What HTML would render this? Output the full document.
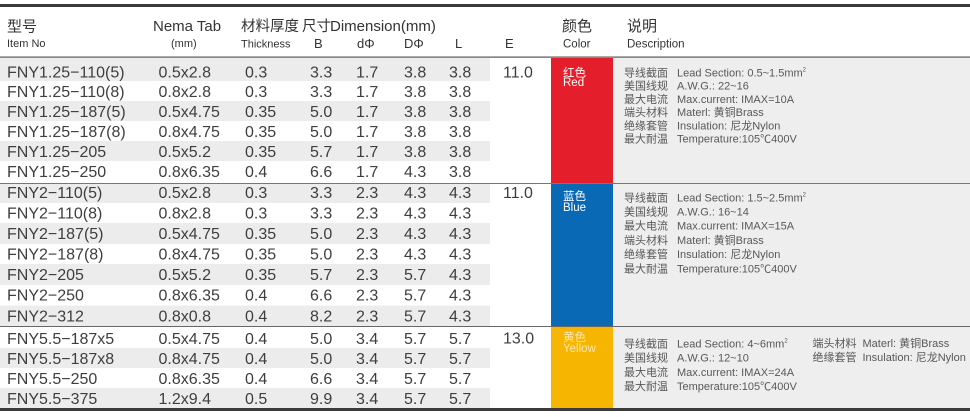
<!DOCTYPE html>
<html><head><meta charset="utf-8"><style>
html,body{margin:0;padding:0;background:#fff;}
svg{display:block}
text{font-family:"Liberation Sans","Noto Sans CJK SC",sans-serif;}
.h{fill:#333;}
.d{fill:#3e3e3e;font-size:16px;}
.s{fill:#585858;font-size:11px;}
.w{fill:#fff;font-size:11.5px;}
</style></head><body>
<svg width="970" height="417" viewBox="0 0 970 417" xmlns="http://www.w3.org/2000/svg">
<!-- backgrounds -->
<rect x="613" y="58" width="357" height="350" fill="#eeeeee"/>
<g fill="#ececec">
<rect x="0" y="58" width="490" height="23"/>
<rect x="0" y="101" width="490" height="20"/>
<rect x="0" y="141" width="490" height="20"/>
<rect x="0" y="184" width="490" height="19"/>
<rect x="0" y="223" width="490" height="21"/>
<rect x="0" y="264" width="490" height="21"/>
<rect x="0" y="305.5" width="490" height="20.5"/>
<rect x="0" y="348" width="490" height="20"/>
<rect x="0" y="388" width="490" height="20"/>
</g>
<rect x="551" y="58" width="62" height="125" fill="#e41f2b"/>
<rect x="551" y="184" width="62" height="142" fill="#0a69b5"/>
<rect x="551" y="327" width="62" height="81" fill="#f5b500"/>
<!-- lines -->
<rect x="0" y="4" width="970" height="3" fill="#3a3a3a"/>
<rect x="0" y="56.5" width="970" height="1.2" fill="#555"/>
<rect x="0" y="183" width="970" height="1" fill="#777"/>
<rect x="0" y="326" width="970" height="1" fill="#666"/>
<rect x="0" y="408" width="970" height="3" fill="#3a3a3a"/>
<!-- header -->
<text class="h" x="7" y="31.5" font-size="15">型号</text>
<text class="h" x="153" y="31" font-size="15">Nema Tab</text>
<text class="h" x="241" y="31" font-size="14.5">材料厚度</text>
<text class="h" x="302" y="31" font-size="14.5">尺寸</text>
<text class="h" x="330" y="31" font-size="15">Dimension(mm)</text>
<text class="h" x="562" y="31" font-size="15">颜色</text>
<text class="h" x="627" y="31" font-size="15">说明</text>
<text class="h" x="7" y="47" font-size="11">Item No</text>
<text class="h" x="171" y="47" font-size="11">(mm)</text>
<text class="h" x="241" y="47.5" font-size="11">Thickness</text>
<text class="h" x="314" y="48" font-size="13">B</text>
<text class="h" x="357" y="48" font-size="13">dΦ</text>
<text class="h" x="404" y="48" font-size="13">DΦ</text>
<text class="h" x="455" y="48" font-size="13">L</text>
<text class="h" x="505" y="48" font-size="13">E</text>
<text class="h" x="563" y="47.5" font-size="11.5">Color</text>
<text class="h" x="627" y="47.5" font-size="11.5">Description</text>
<!-- data rows -->
<g class="d">
<!-- red -->
<text x="7" y="77.4">FNY1.25−110(5)</text><text x="158.5" y="77.4">0.5x2.8</text><text x="245" y="77.4">0.3</text><text x="310" y="77.4">3.3</text><text x="356" y="77.4">1.7</text><text x="404" y="77.4">3.8</text><text x="449" y="77.4">3.8</text>
<text x="7" y="96.8">FNY1.25−110(8)</text><text x="158.5" y="96.8">0.8x2.8</text><text x="245" y="96.8">0.3</text><text x="310" y="96.8">3.3</text><text x="356" y="96.8">1.7</text><text x="404" y="96.8">3.8</text><text x="449" y="96.8">3.8</text>
<text x="7" y="116.8">FNY1.25−187(5)</text><text x="158.5" y="116.8">0.5x4.75</text><text x="245" y="116.8">0.35</text><text x="310" y="116.8">5.0</text><text x="356" y="116.8">1.7</text><text x="404" y="116.8">3.8</text><text x="449" y="116.8">3.8</text>
<text x="7" y="136.8">FNY1.25−187(8)</text><text x="158.5" y="136.8">0.8x4.75</text><text x="245" y="136.8">0.35</text><text x="310" y="136.8">5.0</text><text x="356" y="136.8">1.7</text><text x="404" y="136.8">3.8</text><text x="449" y="136.8">3.8</text>
<text x="7" y="156.8">FNY1.25−205</text><text x="158.5" y="156.8">0.5x5.2</text><text x="245" y="156.8">0.35</text><text x="310" y="156.8">5.7</text><text x="356" y="156.8">1.7</text><text x="404" y="156.8">3.8</text><text x="449" y="156.8">3.8</text>
<text x="7" y="177">FNY1.25−250</text><text x="158.5" y="177">0.8x6.35</text><text x="245" y="177">0.4</text><text x="310" y="177">6.6</text><text x="356" y="177">1.7</text><text x="404" y="177">4.3</text><text x="449" y="177">3.8</text>
<!-- blue -->
<text x="7" y="198">FNY2−110(5)</text><text x="158.5" y="198">0.5x2.8</text><text x="245" y="198">0.3</text><text x="310" y="198">3.3</text><text x="356" y="198">2.3</text><text x="404" y="198">4.3</text><text x="449" y="198">4.3</text>
<text x="7" y="218.5">FNY2−110(8)</text><text x="158.5" y="218.5">0.8x2.8</text><text x="245" y="218.5">0.3</text><text x="310" y="218.5">3.3</text><text x="356" y="218.5">2.3</text><text x="404" y="218.5">4.3</text><text x="449" y="218.5">4.3</text>
<text x="7" y="239">FNY2−187(5)</text><text x="158.5" y="239">0.5x4.75</text><text x="245" y="239">0.35</text><text x="310" y="239">5.0</text><text x="356" y="239">2.3</text><text x="404" y="239">4.3</text><text x="449" y="239">4.3</text>
<text x="7" y="259.5">FNY2−187(8)</text><text x="158.5" y="259.5">0.8x4.75</text><text x="245" y="259.5">0.35</text><text x="310" y="259.5">5.0</text><text x="356" y="259.5">2.3</text><text x="404" y="259.5">4.3</text><text x="449" y="259.5">4.3</text>
<text x="7" y="280">FNY2−205</text><text x="158.5" y="280">0.5x5.2</text><text x="245" y="280">0.35</text><text x="310" y="280">5.7</text><text x="356" y="280">2.3</text><text x="404" y="280">5.7</text><text x="449" y="280">4.3</text>
<text x="7" y="300.5">FNY2−250</text><text x="158.5" y="300.5">0.8x6.35</text><text x="245" y="300.5">0.4</text><text x="310" y="300.5">6.6</text><text x="356" y="300.5">2.3</text><text x="404" y="300.5">5.7</text><text x="449" y="300.5">4.3</text>
<text x="7" y="321.5">FNY2−312</text><text x="158.5" y="321.5">0.8x0.8</text><text x="245" y="321.5">0.4</text><text x="310" y="321.5">8.2</text><text x="356" y="321.5">2.3</text><text x="404" y="321.5">5.7</text><text x="449" y="321.5">4.3</text>
<!-- yellow -->
<text x="7" y="343.8">FNY5.5−187x5</text><text x="158.5" y="343.8">0.5x4.75</text><text x="245" y="343.8">0.4</text><text x="310" y="343.8">5.0</text><text x="356" y="343.8">3.4</text><text x="404" y="343.8">5.7</text><text x="449" y="343.8">5.7</text>
<text x="7" y="363.8">FNY5.5−187x8</text><text x="158.5" y="363.8">0.8x4.75</text><text x="245" y="363.8">0.4</text><text x="310" y="363.8">5.0</text><text x="356" y="363.8">3.4</text><text x="404" y="363.8">5.7</text><text x="449" y="363.8">5.7</text>
<text x="7" y="383.8">FNY5.5−250</text><text x="158.5" y="383.8">0.8x6.35</text><text x="245" y="383.8">0.4</text><text x="310" y="383.8">6.6</text><text x="356" y="383.8">3.4</text><text x="404" y="383.8">5.7</text><text x="449" y="383.8">5.7</text>
<text x="7" y="404">FNY5.5−375</text><text x="158.5" y="404">1.2x9.4</text><text x="245" y="404">0.5</text><text x="310" y="404">9.9</text><text x="356" y="404">3.4</text><text x="404" y="404">5.7</text><text x="449" y="404">5.7</text>
<!-- E -->
<text x="503" y="77.4">11.0</text>
<text x="503" y="198">11.0</text>
<text x="503" y="343.5">13.0</text>
</g>
<!-- color labels -->
<text class="w" x="563" y="76.5" font-size="11">红色</text>
<text class="w" x="563" y="86">Red</text>
<text class="w" x="563" y="200">蓝色</text>
<text class="w" x="563" y="211">Blue</text>
<text class="w" x="563" y="341" font-size="11" style="fill:#fce7b4">黄色</text>
<text class="w" x="563" y="352" style="fill:#fce7b4">Yellow</text>
<!-- descriptions red -->
<g class="s">
<text x="624" y="76.5">导线截面</text><text x="677" y="76.5">Lead Section: 0.5~1.5mm<tspan font-size="6" dy="-5">2</tspan></text>
<text x="624" y="89.7">美国线规</text><text x="677" y="89.7">A.W.G.: 22~16</text>
<text x="624" y="102.9">最大电流</text><text x="677" y="102.9">Max.current: IMAX=10A</text>
<text x="624" y="116.1">端头材料</text><text x="677" y="116.1">Materl: 黄铜Brass</text>
<text x="624" y="129.3">绝缘套管</text><text x="677" y="129.3">Insulation: 尼龙Nylon</text>
<text x="624" y="142.5">最大耐温</text><text x="677" y="142.5">Temperature:105℃400V</text>
<!-- blue -->
<text x="624" y="201.3">导线截面</text><text x="677" y="201.3">Lead Section: 1.5~2.5mm<tspan font-size="6" dy="-5">2</tspan></text>
<text x="624" y="215.5">美国线规</text><text x="677" y="215.5">A.W.G.: 16~14</text>
<text x="624" y="229.7">最大电流</text><text x="677" y="229.7">Max.current: IMAX=15A</text>
<text x="624" y="243.9">端头材料</text><text x="677" y="243.9">Materl: 黄铜Brass</text>
<text x="624" y="258.1">绝缘套管</text><text x="677" y="258.1">Insulation: 尼龙Nylon</text>
<text x="624" y="272.3">最大耐温</text><text x="677" y="272.3">Temperature:105℃400V</text>
<!-- yellow -->
<text x="624" y="347.3">导线截面</text><text x="677" y="347.3">Lead Section: 4~6mm<tspan font-size="6" dy="-5">2</tspan></text>
<text x="624" y="361.7">美国线规</text><text x="677" y="361.7">A.W.G.: 12~10</text>
<text x="624" y="376">最大电流</text><text x="677" y="376">Max.current: IMAX=24A</text>
<text x="624" y="390.2">最大耐温</text><text x="677" y="390.2">Temperature:105℃400V</text>
<text x="812.5" y="347">端头材料</text><text x="862.5" y="347">Materl: 黄铜Brass</text>
<text x="812.5" y="361.2">绝缘套管</text><text x="862.5" y="361.2">Insulation: 尼龙Nylon</text>
</g>
</svg>
</body></html>
